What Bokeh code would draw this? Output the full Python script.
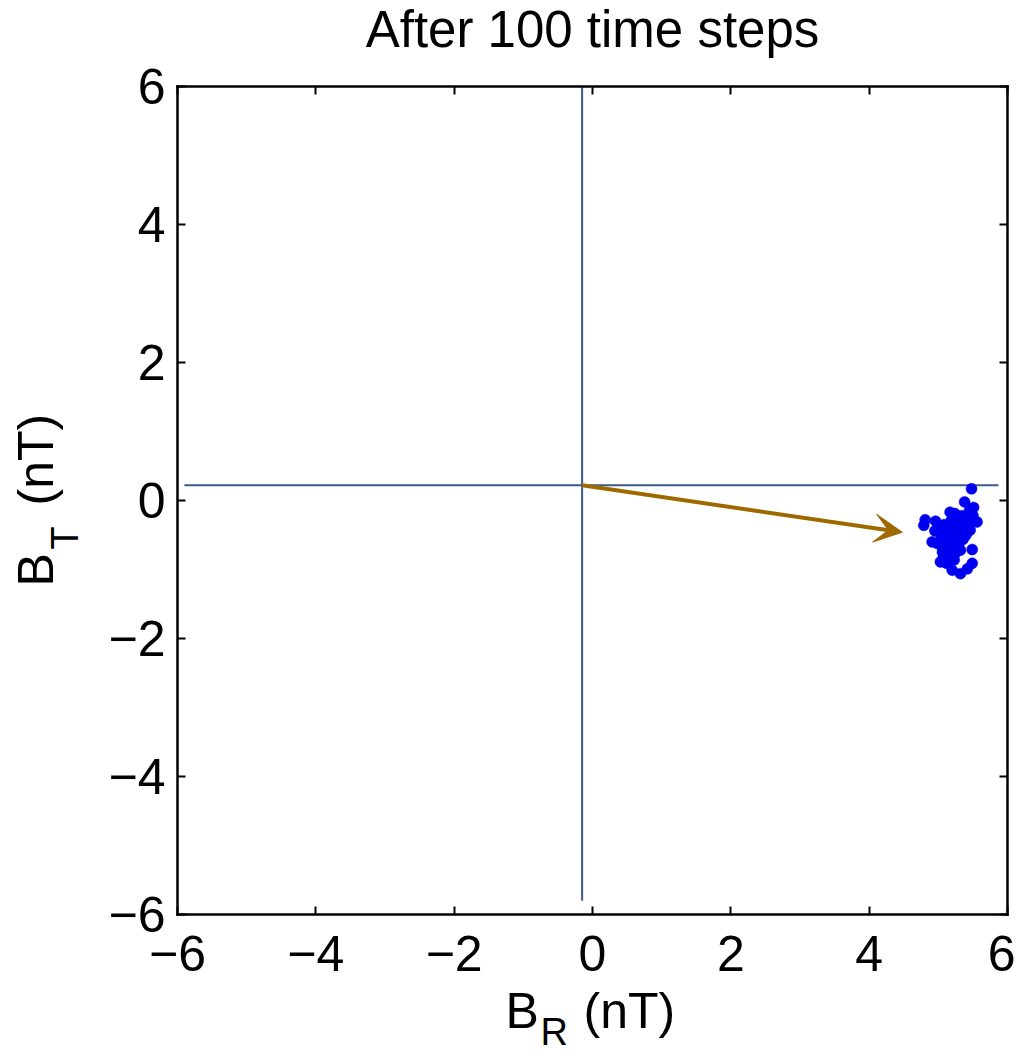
import math
from bokeh.plotting import figure
from bokeh.models import Range1d, Label, Arrow, VeeHead, FixedTicker, LinearAxis
from bokeh.embed import file_html
from bokeh.resources import INLINE

# ---------------- data ----------------
title_text = "After 100 time steps"
ticks = [-6, -4, -2, 0, 2, 4, 6]
tick_labels = {t: (str(t) if t >= 0 else "\u2212" + str(-t)) for t in ticks}
axis_lo, axis_hi = -6, 6

# reference axes lines
vline_x = [-0.15, -0.15]
vline_y = [-5.8, 6.0]
hline_x = [-5.9, 5.87]
hline_y = [0.22, 0.22]

# mean-field arrow
arrow_start = (-0.15, 0.22)
arrow_end = (4.48, -0.46)

# scatter of B_R, B_T after 100 steps
br = [5.48, 5.38, 5.51, 5.17, 5.24, 4.81, 4.96, 5.56, 4.79, 5.34, 5.42, 5.03, 5.18, 5.32,
      5.46, 4.91, 5.06, 5.20, 5.34, 5.49, 5.06, 5.18, 5.03, 5.20, 5.32, 5.42, 5.49,
      5.00, 5.08, 5.12, 5.22, 5.28, 5.35, 5.40, 5.15, 5.25, 5.05, 4.98, 5.10, 5.20,
      5.30, 5.38, 5.44, 5.13, 5.18, 5.27, 5.32, 5.04, 5.17, 5.09, 5.24, 5.11, 5.21,
      5.31, 5.36, 5.02, 5.14, 5.26, 5.07, 4.95, 5.19, 5.29, 5.42, 5.47, 5.50, 5.45,
      5.12, 5.23, 5.16, 5.06, 5.33, 5.39]
bt = [0.17, -0.02, -0.10, -0.17, -0.19, -0.28, -0.30, -0.31, -0.36, -0.22, -0.27, -0.46,
      -0.46, -0.43, -0.43, -0.60, -0.58, -0.60, -0.55, -0.71, -0.75, -0.77, -0.89, -1.01,
      -1.06, -0.99, -0.91,
      -0.40, -0.35, -0.50, -0.38, -0.48, -0.33, -0.50, -0.62, -0.55, -0.52, -0.62, -0.70,
      -0.68, -0.62, -0.40, -0.36, -0.44, -0.30, -0.25, -0.72, -0.65, -0.82, -0.78, -0.77,
      -0.57, -0.47, -0.42, -0.56, -0.47, -0.36, -0.64, -0.84, -0.44, -0.58, -0.52, -0.45,
      -0.32, -0.22, -0.15, -0.91, -0.86, -0.74, -0.60, -0.50, -0.28]

# ---------------- layout ----------------
W, H = 1015, 1055
BOX_L, BOX_T = 177, 86          # pixel position of the -6..6 box
BOX_W, BOX_H = 830, 828
FONT = "Liberation Sans"
BASE_SHIFT = 0.36               # rendered baseline sits this many em below anchor

sx = BOX_W / (axis_hi - axis_lo)
sy = BOX_H / (axis_hi - axis_lo)
def px2x(px):
    return (px - BOX_L) / sx + axis_lo
def py2y(py):
    return axis_hi - (py - BOX_T) / sy

p = figure(width=W, height=H, output_backend="svg", toolbar_location=None,
           x_range=Range1d(px2x(0), px2x(W)), y_range=Range1d(py2y(H), py2y(0)),
           min_border=0, x_axis_location=None, y_axis_location=None,
           background_fill_color="white", border_fill_color="white")
p.grid.visible = False
p.outline_line_color = None

def style_axis(ax, labels=True):
    ax.ticker = FixedTicker(ticks=ticks)
    ax.bounds = (axis_lo, axis_hi)
    ax.major_tick_in = 8
    ax.major_tick_out = 0
    ax.minor_tick_in = 0
    ax.minor_tick_out = 0
    ax.major_tick_line_color = "black"
    ax.major_tick_line_width = 2
    ax.axis_line_color = "black"
    ax.axis_line_width = 2.5
    ax.axis_line_cap = "square"
    ax.major_label_text_font = FONT
    ax.major_label_text_font_size = "50px"
    ax.major_label_text_color = "black" if labels else None
    ax.major_label_overrides = tick_labels

xb = LinearAxis(fixed_location=axis_lo, major_label_standoff=21)
yl = LinearAxis(fixed_location=axis_lo, major_label_standoff=12)
xt = LinearAxis(fixed_location=axis_hi)
yr = LinearAxis(fixed_location=axis_hi)
style_axis(xb)
style_axis(yl)
style_axis(xt, labels=False)
style_axis(yr, labels=False)
p.add_layout(xb, "below")
p.add_layout(yl, "left")
p.add_layout(xt, "above")
p.add_layout(yr, "right")

# cross lines
p.line(vline_x, vline_y, line_color="#3b5b8b", line_width=2)
p.line(hline_x, hline_y, line_color="#3b5b8b", line_width=2)

# arrow
p.add_layout(Arrow(x_start=arrow_start[0], y_start=arrow_start[1],
                   x_end=arrow_end[0], y_end=arrow_end[1],
                   line_color="#9e6a00", line_width=4,
                   end=VeeHead(size=28, fill_color="#9e6a00", line_color="#9e6a00",
                               line_width=1)))

# scatter
p.scatter(br, bt, size=11, fill_color="#0000f0", line_color="#0000f0", line_width=0.5)

def add_label(text, px, py, size, angle=0.0, align="left"):
    # (px, py): wanted start of the baseline, in picture pixels
    shift = BASE_SHIFT * size
    if angle:
        px -= shift
    else:
        py -= shift
    p.add_layout(Label(x=px2x(px), y=py2y(py), text=text, text_font=FONT,
                       text_font_size=f"{size}px", text_color="black",
                       text_baseline="alphabetic", text_align=align, angle=angle))

# title
add_label(title_text, 592, 47, 51, align="center")
# x label: B_R (nT)
add_label("B", 505, 1028, 50)
add_label("R", 540, 1045, 38)
add_label("(nT)", 583, 1028, 50)
# y label: B_T (nT)
add_label("B", 53, 586, 50, angle=math.pi / 2)
add_label("T", 78, 549, 38, angle=math.pi / 2)
add_label("(nT)", 53, 505, 50, angle=math.pi / 2)

open("out.html", "w").write(file_html(p, INLINE))
